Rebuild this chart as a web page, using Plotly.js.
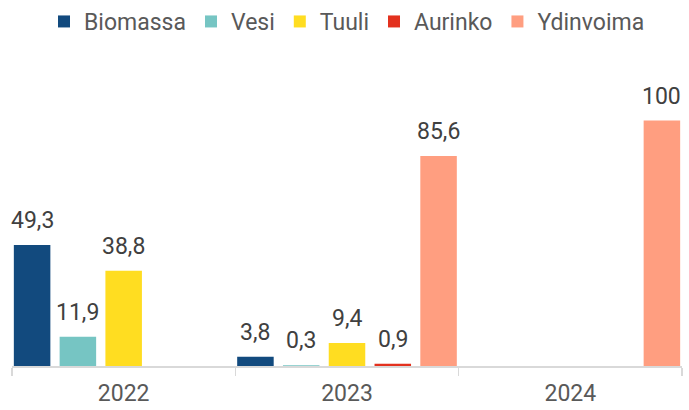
<!DOCTYPE html>
<html>
<head>
<meta charset="utf-8">
<script src="https://cdn.plot.ly/plotly-3.0.1.min.js"></script>
<style>html,body{margin:0;padding:0;background:#fff}#chart{width:689px;height:410px}</style>
</head>
<body>
<div id="chart"></div>
<script>
const years = ['2022', '2023', '2024'];
const seriesNames = ['Biomassa', 'Vesi', 'Tuuli', 'Aurinko', 'Ydinvoima'];
const biomassa = [49.3, 3.8, null];
const vesi = [11.9, 0.3, null];
const tuuli = [38.8, 9.4, null];
const aurinko = [null, 0.9, null];
const ydinvoima = [null, 85.6, 100];
const colors = ['#124A7E', '#76C5C3', '#FFDD21', '#E3311E', '#FF9E80'];

const values = [biomassa, vesi, tuuli, aurinko, ydinvoima];
const barW = 0.1635, pitch = 0.205;
const fmt = v => (Number.isInteger(v) ? String(v) : v.toFixed(1).replace('.', ','));

const traces = values.map((vals, i) => ({
  type: 'bar',
  name: seriesNames[i],
  x: years,
  y: vals,
  width: barW,
  offset: (i - 2) * pitch - barW / 2,
  marker: {color: colors[i]},
  hoverinfo: 'x+y+name'
}));

const W = 689, ml = 12, mr = 7;
const catPx = (W - ml - mr) / years.length;
const annotations = [];
values.forEach((vals, i) => {
  vals.forEach((v, j) => {
    if (v === null) return;
    annotations.push({
      x: j, y: v, xref: 'x', yref: 'y',
      text: fmt(v), showarrow: false,
      xshift: (i - 2) * pitch * catPx,
      yanchor: 'bottom', yshift: 9,
      font: {family: 'Roboto, sans-serif', size: 23, color: '#404040'}
    });
  });
});

const layout = {
  width: W, height: 410,
  margin: {l: ml, r: mr, t: 96, b: 44},
  paper_bgcolor: '#fff', plot_bgcolor: '#fff',
  barmode: 'group',
  showlegend: true,
  legend: {
    orientation: 'h', x: 0.5, xanchor: 'center',
    yref: 'container', y: 1, yanchor: 'top',
    font: {family: 'Roboto, sans-serif', size: 23, color: '#595959'},
    itemclick: false, traceorder: 'normal'
  },
  xaxis: {
    type: 'category', range: [-0.5, 2.5],
    showline: true, linecolor: '#D9D9D9', linewidth: 1.5,
    ticks: 'outside', tickson: 'boundaries', ticklen: 8, tickcolor: '#D9D9D9', tickwidth: 1.5,
    ticklabelstandoff: 6,
    showgrid: false, zeroline: false,
    tickfont: {family: 'Roboto, sans-serif', size: 23, color: '#595959'}
  },
  yaxis: {
    range: [0, 110], visible: false, showgrid: false, zeroline: false
  },
  annotations: annotations,
  font: {family: 'Roboto, sans-serif'}
};

Plotly.newPlot('chart', traces, layout, {displayModeBar: false, staticPlot: true});
</script>
</body>
</html>
